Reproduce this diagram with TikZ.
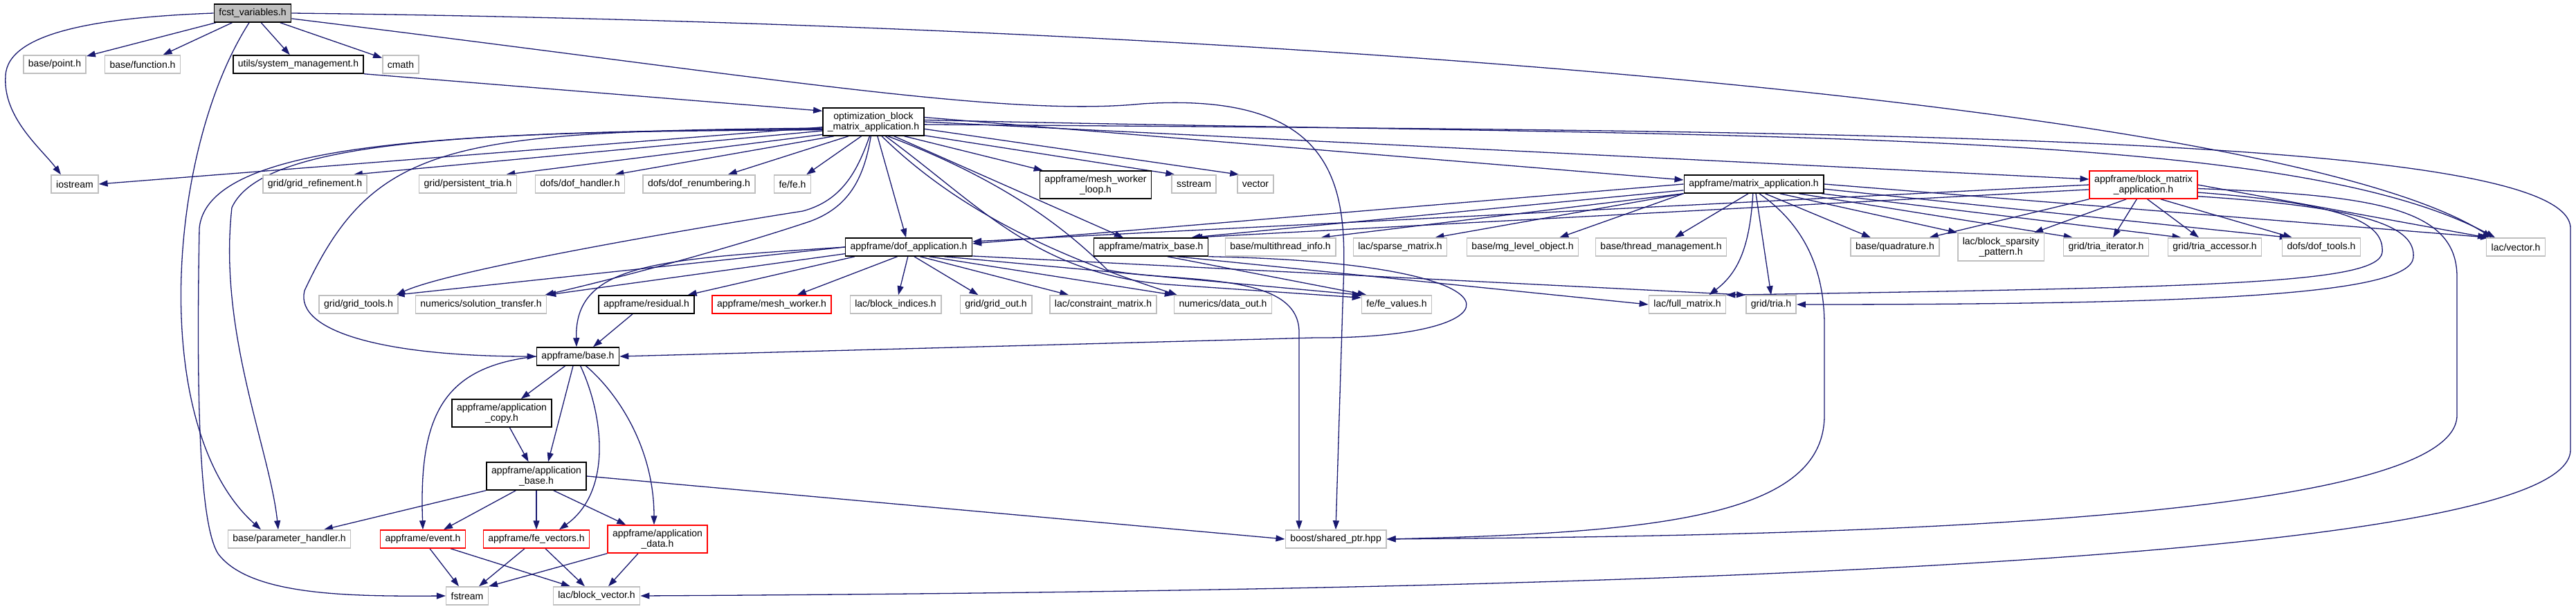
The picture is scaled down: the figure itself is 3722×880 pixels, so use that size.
\documentclass[tikz,border=0pt]{standalone}
\usepackage{fontspec}
\setmainfont{Liberation Sans}
\usetikzlibrary{arrows.meta, positioning, backgrounds}
\definecolor{edgeBlue}{RGB}{25,25,112}
\definecolor{boxGray}{RGB}{191,191,191}
\definecolor{cutRed}{RGB}{255,0,0}
\tikzset{
    hdrbox/.style ={rectangle, draw=boxGray, fill=white, line width=1.5pt, inner xsep=7pt, inner ysep=2pt, minimum height=26pt, align=center},
    docbox/.style ={hdrbox, draw=black},
    cutbox/.style ={hdrbox, draw=cutRed},
    rootbox/.style={hdrbox, draw=black, fill=boxGray},
    twoline/.style={minimum height=40pt},
    dep/.style    ={-{Triangle[length=13pt,width=9pt]}, draw=edgeBlue, line width=1.3pt},
}
\begin{document}
\begin{tikzpicture}[x=1pt, y=-1pt, every node/.style={font=\fontsize{14}{15}\selectfont}]
        \useasboundingbox (0,0) rectangle (3722,880);

        % rows, top to bottom
        \node[rootbox] (fcst) at (365,19) {fcst\_variables.h};

        \node[hdrbox] (point)    at (79,93)  {base/point.h};
        \node[hdrbox] (function) at (206,93) {base/function.h};
        \node[docbox] (sysmgmt)  at (431,93) {utils/system\_management.h};
        \node[hdrbox] (cmath)    at (579,93) {cmath};

        \node[docbox, twoline] (optim) at (1262,176) {optimization\_block\\\_matrix\_application.h};

        \node[hdrbox] (iostream)   at (108,266)  {iostream};
        \node[hdrbox] (gridref)    at (455,266)  {grid/grid\_refinement.h};
        \node[hdrbox] (perstria)   at (676,266)  {grid/persistent\_tria.h};
        \node[hdrbox] (dofhandler) at (838,266)  {dofs/dof\_handler.h};
        \node[hdrbox] (dofrenum)   at (1010,266) {dofs/dof\_renumbering.h};
        \node[hdrbox] (fefe)       at (1145,266) {fe/fe.h};
        \node[docbox, twoline] (mwloop) at (1583,267) {appframe/mesh\_worker\\\_loop.h};
        \node[hdrbox] (sstream)    at (1725,266) {sstream};
        \node[hdrbox] (vector)     at (1814,266) {vector};
        \node[docbox] (matapp)     at (2534,266) {appframe/matrix\_application.h};
        \node[cutbox, twoline] (blkmatapp) at (3097,267) {appframe/block\_matrix\\\_application.h};

        \node[docbox] (dofapp)      at (1313,357) {appframe/dof\_application.h};
        \node[docbox] (matbase)     at (1663,357) {appframe/matrix\_base.h};
        \node[hdrbox] (multithread) at (1850,357) {base/multithread\_info.h};
        \node[hdrbox] (sparse)      at (2023,357) {lac/sparse\_matrix.h};
        \node[hdrbox] (mglevel)     at (2200,357) {base/mg\_level\_object.h};
        \node[hdrbox] (threadmgmt)  at (2400,357) {base/thread\_management.h};
        \node[hdrbox] (quadrature)  at (2738,357) {base/quadrature.h};
        \node[hdrbox, twoline] (blksparsity) at (2891,357) {lac/block\_sparsity\\\_pattern.h};
        \node[hdrbox] (triaiter)    at (3043,357) {grid/tria\_iterator.h};
        \node[hdrbox] (triaacc)     at (3200,357) {grid/tria\_accessor.h};
        \node[hdrbox] (doftools)    at (3354,357) {dofs/dof\_tools.h};
        \node[hdrbox] (lacvector)   at (3635,357) {lac/vector.h};

        \node[hdrbox] (gridtools)   at (518,440)  {grid/grid\_tools.h};
        \node[hdrbox] (soltransfer) at (695,440)  {numerics/solution\_transfer.h};
        \node[docbox] (residual)    at (934,440)  {appframe/residual.h};
        \node[cutbox] (meshworker)  at (1115,440) {appframe/mesh\_worker.h};
        \node[hdrbox] (blkindices)  at (1294,440) {lac/block\_indices.h};
        \node[hdrbox] (gridout)     at (1439,440) {grid/grid\_out.h};
        \node[hdrbox] (constraint)  at (1594,440) {lac/constraint\_matrix.h};
        \node[hdrbox] (dataout)     at (1767,440) {numerics/data\_out.h};
        \node[hdrbox] (fevalues)    at (2018,440) {fe/fe\_values.h};
        \node[hdrbox] (fullmatrix)  at (2438,440) {lac/full\_matrix.h};
        \node[hdrbox] (tria)        at (2559,440) {grid/tria.h};

        \node[docbox] (base) at (835,515) {appframe/base.h};
        \node[docbox, twoline] (appcopy) at (725,597) {appframe/application\\\_copy.h};
        \node[docbox, twoline] (appbase) at (775,688) {appframe/application\\\_base.h};

        \node[hdrbox] (paramhandler) at (418,779)  {base/parameter\_handler.h};
        \node[cutbox] (event)        at (611,779)  {appframe/event.h};
        \node[cutbox] (fevectors)    at (775,779)  {appframe/fe\_vectors.h};
        \node[cutbox, twoline] (appdata) at (950,779) {appframe/application\\\_data.h};
        \node[hdrbox] (boost)        at (1930,779) {boost/shared\_ptr.hpp};

        \node[hdrbox] (fstream)   at (675,861) {fstream};
        \node[hdrbox] (blkvector) at (862,861) {lac/block\_vector.h};

        \begin{scope}[on background layer]
        % fcst_variables.h
        \draw[dep] (fcst) -- (point);
        \draw[dep] (fcst) -- (function);
        \draw[dep] (fcst) -- (sysmgmt);
        \draw[dep] (fcst) -- (cmath);
        \draw[dep] (fcst.west) .. controls (150,25) and (10,45) .. (8,110) .. controls (4,170) and (60,215) .. ([xshift=-20pt]iostream.north);
        \draw[dep] (fcst.250) .. controls (240,220) and (215,620) .. ([xshift=-41pt]paramhandler.north);
        \draw[dep] (fcst.east) .. controls (1800,35) and (3300,150) .. ([xshift=-35pt]lacvector.north);
        \draw[dep] (fcst.-8) .. controls (1100,110) and (1450,170) .. (1650,150) .. controls (1960,130) and (1945,300) .. (1940,440) -- (boost.north);

        \draw[dep] (sysmgmt.south east) -- (optim.168);

        % optimization_block_matrix_application.h
        \draw[dep] (optim.186) -- (iostream.east);
        \draw[dep] (optim.190) -- ([xshift=-20pt]gridref.north east);
        \draw[dep] (optim.194) -- ([xshift=-16pt]perstria.north east);
        \draw[dep] (optim.-160) -- ([xshift=-15pt]dofhandler.north east);
        \draw[dep] (optim.-150) -- ([xshift=-40pt]dofrenum.north east);
        \draw[dep] (optim.-130) -- ([xshift=-7pt]fefe.north east);
        \draw[dep] (optim) -- (dofapp);
        \draw[dep] (optim.-25) -- ([xshift=5pt]mwloop.north west);
        \draw[dep] (optim.-15) -- ([xshift=5pt]sstream.north west);
        \draw[dep] (optim.-8) -- ([xshift=3pt]vector.north west);
        \draw[dep] (optim.5) -- ([yshift=6pt]matapp.west);
        \draw[dep] (optim.0) -- ([yshift=8pt]blkmatapp.west);
        \draw[dep] (optim.2) .. controls (2500,200) and (3300,180) .. ([xshift=-30pt]lacvector.north);
        \draw[dep] (optim.-3) .. controls (2600,190) and (3714,190) .. (3714,330) -- (3714,650) .. controls (3714,830) and (2000,855) .. (blkvector.east);
        \draw[dep] (optim.-35) -- ([xshift=-40pt]matbase.north);
        \draw[dep] (optim.-50) .. controls (1420,300) and (1500,400) .. (1700,412) -- ([yshift=-4pt]fevalues.north west);
        \draw[dep] (optim.-60) .. controls (1400,320) and (1560,380) .. ([xshift=5pt]dataout.north west);
        \draw[dep] (optim.-45) .. controls (1450,260) and (1540,330) .. (1600,390) .. controls (1700,410) and (1877,390) .. (1877,480) -- ([xshift=-53pt]boost.north);
        \draw[dep] (optim.-105) .. controls (1238,250) and (1215,290) .. (1160,305) .. controls (1000,330) and (650,390) .. ([xshift=-3pt]gridtools.north east);
        \draw[dep] (optim.-100) .. controls (1248,260) and (1225,300) .. (1170,320) .. controls (1050,360) and (900,400) .. ([xshift=-3pt]soltransfer.north east);
        \draw[dep] (optim.188) .. controls (700,190) and (380,200) .. (335,300) .. controls (315,480) and (390,650) .. ([xshift=-16pt]paramhandler.north);
        \draw[dep] (optim.189) .. controls (680,190) and (300,200) .. (288,330) .. controls (283,600) and (290,760) .. (315,800) .. controls (360,860) and (500,862) .. (fstream.west);
        \draw[dep] (optim.187) .. controls (650,190) and (540,205) .. (440,420) .. controls (425,480) and (560,515) .. (base.west);

        % appframe/matrix_application.h
        \draw[dep] (matapp.west) -- ([yshift=5pt]dofapp.east);
        \draw[dep] (matapp.185) -- ([xshift=-25pt]matbase.north east);
        \draw[dep] (matapp.south west) -- ([xshift=-22pt]multithread.north east);
        \draw[dep] (matapp.south west) -- ([xshift=-18pt]sparse.north east);
        \draw[dep] (matapp.south west) -- ([xshift=-28pt]mglevel.north east);
        \draw[dep] (matapp.-120) -- ([xshift=20pt]threadmgmt.north);
        \draw[dep] (matapp.-40) -- ([xshift=-35pt]quadrature.north);
        \draw[dep] (matapp.-20) -- (blksparsity.north west);
        \draw[dep] (matapp.-12) -- ([xshift=14pt]triaiter.north west);
        \draw[dep] (matapp.-8) -- ([xshift=20pt]triaacc.north west);
        \draw[dep] (matapp.-4) -- ([xshift=10pt]doftools.north west);
        \draw[dep] (matapp.east) -- ([xshift=-38pt]lacvector.north);
        \draw[dep] (matapp.-95) .. controls (2528,360) and (2510,395) .. ([xshift=-25pt]fullmatrix.north east);
        \draw[dep] ([xshift=3pt]matapp.south) -- (tria.north);
        \draw[dep] (matapp.-60) .. controls (2600,320) and (2636,380) .. (2636,470) -- (2636,600) .. controls (2636,745) and (2400,770) .. (boost.east);

        % appframe/block_matrix_application.h
        \draw[dep] (blkmatapp.west) -- ([yshift=8pt]dofapp.east);
        \draw[dep] (blkmatapp.185) -- ([xshift=-22pt]matbase.north east);
        \draw[dep] (blkmatapp.south west) -- ([xshift=-15pt]quadrature.north east);
        \draw[dep] (blkmatapp.-140) -- ([xshift=-15pt]blksparsity.north east);
        \draw[dep] (blkmatapp.-115) -- ([xshift=10pt]triaiter.north);
        \draw[dep] (blkmatapp.-75) -- ([xshift=-23pt]triaacc.north);
        \draw[dep] (blkmatapp.-40) -- ([xshift=15pt]doftools.north west);
        \draw[dep] (blkmatapp.east) -- ([xshift=-42pt]lacvector.north);
        \draw[dep] (blkmatapp.-8) .. controls (3400,295) and (3445,325) .. (3442,365) .. controls (3435,410) and (3200,415) .. (fullmatrix.north east);
        \draw[dep] (blkmatapp.-12) .. controls (3430,300) and (3490,330) .. (3487,372) .. controls (3482,425) and (3200,440) .. (tria.east);
        \draw[dep] (blkmatapp.-4) .. controls (3430,282) and (3550,300) .. (3550,400) -- (3550,600) .. controls (3550,765) and (2500,775) .. (boost.east);

        % appframe/dof_application.h
        \draw[dep] (dofapp.west) -- ([xshift=-4pt]gridtools.north east);
        \draw[dep] (dofapp.186) -- (soltransfer.north east);
        \draw[dep] (dofapp.west) .. controls (950,375) and (830,380) .. ([xshift=-2pt]base.north);
        \draw[dep] (dofapp.-170) -- ([xshift=-10pt]residual.north east);
        \draw[dep] (dofapp.-140) -- ([xshift=-50pt]meshworker.north east);
        \draw[dep] (dofapp.-95) -- ([xshift=4pt]blkindices.north);
        \draw[dep] (dofapp.-60) -- ([xshift=27pt]gridout.north west);
        \draw[dep] (dofapp.-40) -- ([xshift=28pt]constraint.north west);
        \draw[dep] (dofapp.-25) -- (dataout.north west);
        \draw[dep] (dofapp.-15) -- (fevalues.north west);
        \draw[dep] (dofapp.-8) -- (tria.north west);

        % appframe/matrix_base.h
        \draw[dep] (matbase.-30) -- ([xshift=8pt]fevalues.north west);
        \draw[dep] (matbase.-20) -- (fullmatrix.west);
        \draw[dep] (matbase.south east) .. controls (2230,380) and (2200,490) .. (1900,488) -- (base.east);

        \draw[dep] ([xshift=-20pt]residual.south) -- ([xshift=22pt]base.north);

        % appframe/base.h and below
        \draw[dep] (base) -- (appcopy);
        \draw[dep] ([xshift=-7pt]base.south) -- ([xshift=17pt]appbase.north);
        \draw[dep] (base.west) .. controls (640,530) and (605,600) .. (event.north);
        \draw[dep] (base.-75) .. controls (872,600) and (885,710) .. ([xshift=33pt]fevectors.north);
        \draw[dep] (base.-50) .. controls (895,570) and (945,650) .. ([xshift=-5pt]appdata.north);
        \draw[dep] (appcopy) -- (appbase);
        \draw[dep] (appbase.south west) -- ([xshift=50pt]paramhandler.north);
        \draw[dep] (appbase.-145) -- ([xshift=30pt]event.north);
        \draw[dep] (appbase) -- (fevectors);
        \draw[dep] (appbase.-40) -- ([xshift=27pt]appdata.north west);
        \draw[dep] (appbase.east) -- (boost.west);
        \draw[dep] ([xshift=10pt]event.south) -- ([xshift=-12pt]fstream.north);
        \draw[dep] ([xshift=40pt]event.south) -- ([xshift=-38pt]blkvector.north);
        \draw[dep] ([xshift=-17pt]fevectors.south) -- ([xshift=17pt]fstream.north);
        \draw[dep] ([xshift=13pt]fevectors.south) -- ([xshift=-17pt]blkvector.north);
        \draw[dep] (appdata.south west) -- (fstream.north east);
        \draw[dep] ([xshift=-28pt]appdata.south) -- ([xshift=17pt]blkvector.north);
        \end{scope}
    \end{tikzpicture}
\end{document}
